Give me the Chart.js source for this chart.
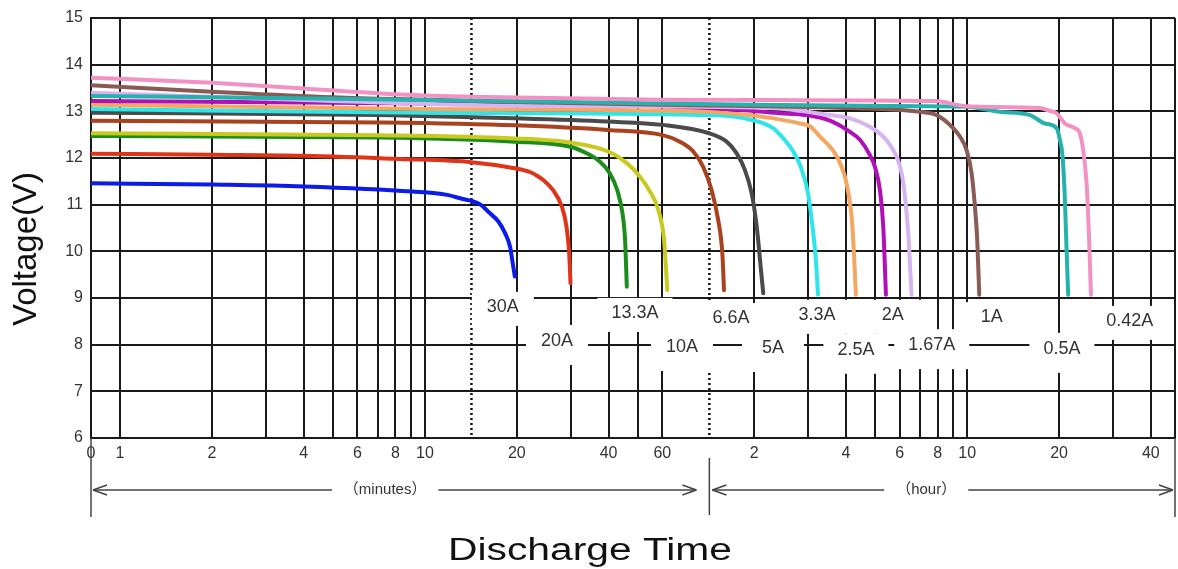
<!DOCTYPE html>
<html>
<head>
<meta charset="utf-8">
<title>Discharge curves</title>
<script src="https://cdn.jsdelivr.net/npm/chart.js@4.4.1/dist/chart.umd.min.js"></script>
<style>
  html, body { margin: 0; padding: 0; background: #fff; }
  canvas { display: block; }
</style>
</head>
<body>
<canvas id="descarga" width="1178" height="569"></canvas>
<script>
// discharge time in minutes, voltage in volts
const time30A = [0.803, 2, 4, 9.1, 11.8, 13.3, 14.2, 15.2, 16.3, 17.4, 18.3, 19.0, 19.4, 19.7];
const volt30A = [11.46, 11.43, 11.39, 11.28, 11.21, 11.12, 11.08, 11.0, 10.82, 10.64, 10.39, 10.1, 9.74, 9.46];

const time20A = [0.803, 2, 4, 8.3, 14.2, 19.7, 22.1, 23.3, 24.4, 26.3, 28.1, 29.1, 29.7, 30.0];
const volt20A = [12.09, 12.07, 12.05, 11.98, 11.91, 11.78, 11.70, 11.62, 11.53, 11.31, 10.96, 10.53, 9.96, 9.32];

const time13A = [0.803, 7.1, 19.7, 30, 33.9, 37.5, 40.4, 42.7, 44.4, 45.3, 45.9];
const volt13A = [12.47, 12.44, 12.35, 12.24, 12.10, 11.92, 11.67, 11.31, 10.82, 10.24, 9.24];

const time10A = [0.803, 7.1, 19.7, 30, 39.9, 45.9, 50.7, 54.7, 58.2, 60.8, 62.3];
const volt10A = [12.53, 12.49, 12.42, 12.33, 12.14, 11.89, 11.60, 11.28, 10.89, 10.24, 9.17];

const time6A = [0.803, 7.1, 19.7, 39.8, 60.1, 68.5, 75.8, 81.7, 87.1, 91.5, 94.4, 95.6];
const volt6A = [12.80, 12.76, 12.70, 12.60, 12.49, 12.35, 12.14, 11.81, 11.31, 10.67, 9.96, 9.17];

const time5A = [0.803, 7.1, 19.7, 39.8, 60.1, 85.5, 97.5, 105.2, 112, 117.8, 122.4, 126.1, 128.6];
const volt5A = [12.97, 12.92, 12.85, 12.78, 12.71, 12.53, 12.35, 12.10, 11.74, 11.24, 10.53, 9.67, 9.10];

const time3A = [0.803, 10, 86, 119, 138.4, 151.5, 160.9, 169.7, 180.2, 187.1, 191.4, 194.4];
const volt3A = [13.05, 12.97, 12.92, 12.81, 12.64, 12.38, 12.15, 11.85, 11.25, 10.45, 9.8, 9.07];

const time25A = [0.803, 10, 86, 125.4, 135.3, 169.7, 182.9, 197.3, 221, 229.5, 238.3, 245.6, 250.6, 255, 258.8];
const volt25A = [13.14, 13.05, 12.99, 12.89, 12.86, 12.74, 12.68, 12.46, 12.10, 11.89, 11.60, 11.17, 10.74, 9.96, 9.07];

const time2A = [0.803, 10, 86, 145.9, 177.5, 212.8, 247.5, 266.9, 287.7, 298.8, 310.3, 318.2, 324.7];
const volt2A = [13.22, 13.17, 13.07, 12.96, 12.92, 12.80, 12.56, 12.39, 12.06, 11.81, 11.31, 10.53, 9.07];

const time167A = [0.803, 5, 20, 135.3, 212.8, 247.5, 287.7, 318.2, 334.6, 352, 365.6, 374.9, 384.3, 394];
const volt167A = [13.40, 13.22, 13.12, 13.07, 12.92, 12.85, 12.67, 12.46, 12.28, 12.03, 11.67, 11.17, 10.39, 9.07];

const time1A = [0.803, 2, 5, 20, 60, 135.3, 247.5, 419.8, 476.1, 526.3, 567.7, 597, 620.2, 635.8, 647, 656.9];
const volt1A = [13.56, 13.42, 13.30, 13.2, 13.14, 13.11, 13.07, 12.99, 12.92, 12.71, 12.46, 12.17, 11.67, 10.96, 10.24, 9.07];

const time05A = [0.803, 5, 30, 120, 420, 597, 767.8, 962.9, 1078.5, 1178, 1207.8, 1232.5, 1254.2, 1270.2, 1285.7];
const volt05A = [13.33, 13.27, 13.20, 13.14, 13.11, 13.10, 12.99, 12.92, 12.74, 12.64, 12.39, 12.03, 11.1, 10.03, 9.07];

const time042A = [0.803, 2, 4, 8.3, 14.2, 60, 169.7, 472.5, 597, 1034, 1119.6, 1178, 1254, 1352, 1404, 1440, 1477, 1503, 1527];
const volt042A = [13.72, 13.61, 13.49, 13.36, 13.31, 13.25, 13.24, 13.22, 13.11, 13.07, 13.01, 12.96, 12.74, 12.64, 12.53, 12.17, 11.46, 10.39, 9.07];

const corrientes = ['30A', '20A', '13.3A', '10A', '6.6A', '5A', '3.3A', '2.5A', '2A', '1.67A', '1A', '0.5A', '0.42A'];
const tiempos = [time30A, time20A, time13A, time10A, time6A, time5A, time3A, time25A, time2A, time167A, time1A, time05A, time042A];
const voltajes = [volt30A, volt20A, volt13A, volt10A, volt6A, volt5A, volt3A, volt25A, volt2A, volt167A, volt1A, volt05A, volt042A];
const colores = ['#0b1be8', '#e0341a', '#1c8c1c', '#c9c922', '#a9431f', '#4a4a4a', '#2ee6ea',
                 '#f5a660', '#b010b8', '#d6b4f2', '#8a5a55', '#26b2ac', '#f292c4'];

// where each current label sits (minutes, volts)
const etiquetaTiempo = [18.0, 27.1, 48.8, 69.6, 100.8, 138.4, 192.8, 258.8, 342, 459, 722, 1226, 2046];
const etiquetaVolt = [8.81, 8.08, 8.68, 7.95, 8.57, 7.93, 8.64, 7.89, 8.64, 7.99, 8.59, 7.91, 8.51];

// axis: log time in minutes
const ejeMin = 0.803;
const ejeMax = 2880;
const gridMinutos = [1, 2, 3, 4, 5, 6, 7, 8, 9, 10, 20, 30, 40, 50, 60];
const gridHoras = [2, 3, 4, 5, 6, 7, 8, 9, 10, 20, 30, 40];
const etiquetasMinutos = [1, 2, 4, 6, 8, 10, 20, 40, 60];
const etiquetasHoras = [2, 4, 6, 8, 10, 20, 40];
const separadores = [14.2, 85.6];

const fuente = '"Liberation Sans", Arial, "Noto Sans CJK SC", sans-serif';

function linea(ctx, x1, y1, x2, y2) {
    ctx.beginPath();
    ctx.moveTo(x1, y1);
    ctx.lineTo(x2, y2);
    ctx.stroke();
}

function flecha(ctx, x1, x2, y, texto, xTexto) {
    ctx.font = '15px ' + fuente;
    const w = ctx.measureText(texto).width;
    const gap = w / 2 + 12;
    linea(ctx, x1, y, xTexto - gap, y);
    linea(ctx, xTexto + gap, y, x2, y);
    // heads
    linea(ctx, x1, y, x1 + 14, y - 5);
    linea(ctx, x1, y, x1 + 14, y + 5);
    linea(ctx, x2, y, x2 - 14, y - 5);
    linea(ctx, x2, y, x2 - 14, y + 5);
    ctx.textAlign = 'center';
    ctx.textBaseline = 'middle';
    ctx.fillText(texto, xTexto, y);
}

const extras = {
    id: 'extras',
    beforeDatasetsDraw(chart) {
        const { ctx, scales: { x, y } } = chart;
        ctx.save();
        ctx.strokeStyle = '#111';
        ctx.lineWidth = 2.5;
        ctx.setLineDash([2, 3]);
        separadores.forEach(function (v) {
            const px = x.getPixelForValue(v);
            linea(ctx, px, y.top, px, y.bottom);
        });
        ctx.setLineDash([]);
        // white boxes behind the current labels (upper row / lower row)
        ctx.font = '18px ' + fuente;
        ctx.fillStyle = '#fff';
        corrientes.forEach(function (t, i) {
            const px = x.getPixelForValue(etiquetaTiempo[i]);
            const py = y.getPixelForValue(etiquetaVolt[i]);
            const w = Math.max(ctx.measureText(t).width + 28, 62);
            if (i % 2 === 0) {
                ctx.fillRect(px - w / 2, py - 15, w, 34);
            } else {
                ctx.fillRect(px - w / 2, py - 16, w, 40);
            }
        });
        ctx.restore();
    },
    afterDatasetsDraw(chart) {
        const { ctx, scales: { x, y } } = chart;
        ctx.save();
        ctx.font = '18px ' + fuente;
        ctx.fillStyle = '#333';
        ctx.textAlign = 'center';
        ctx.textBaseline = 'middle';
        corrientes.forEach(function (t, i) {
            ctx.fillText(t, x.getPixelForValue(etiquetaTiempo[i]), y.getPixelForValue(etiquetaVolt[i]));
        });
        ctx.restore();
    },
    afterDraw(chart) {
        const { ctx, scales: { x, y } } = chart;
        const medio = x.getPixelForValue(separadores[1]);
        ctx.save();
        ctx.strokeStyle = '#444';
        ctx.fillStyle = '#333';
        ctx.lineWidth = 1.5;
        linea(ctx, x.left, y.bottom, x.left, 517);
        linea(ctx, medio, 458, medio, 515);
        linea(ctx, x.right, y.bottom, x.right, 517);
        flecha(ctx, x.left + 2, medio - 13, 490, '（minutes）', x.getPixelForValue(7.4));
        flecha(ctx, medio + 3, x.right - 2, 490, '（hour）', x.getPixelForValue(440));

        // axis titles
        ctx.fillStyle = '#111';
        ctx.font = '33px ' + fuente;
        ctx.save();
        ctx.translate(27, 249);
        ctx.rotate(-Math.PI / 2);
        ctx.textAlign = 'center';
        ctx.textBaseline = 'middle';
        ctx.fillText('Voltage(V)', 0, 0);
        ctx.restore();

        ctx.font = '31px ' + fuente;
        const titulo = 'Discharge Time';
        const escala = 284 / ctx.measureText(titulo).width;
        ctx.save();
        ctx.translate(590, 560);
        ctx.scale(escala, 1);
        ctx.textAlign = 'center';
        ctx.textBaseline = 'alphabetic';
        ctx.fillText(titulo, 0, 0);
        ctx.restore();
        ctx.restore();
    }
};

const ctx = document.getElementById('descarga').getContext('2d');
const myChart = new Chart(ctx, {
    type: 'line',
    data: {
        datasets: corrientes.map(function (c, i) {
            return {
                label: c,
                data: tiempos[i].map(function (t, j) { return { x: t, y: voltajes[i][j] }; }),
                borderColor: colores[i],
                backgroundColor: colores[i],
                borderWidth: 4,
                pointRadius: 0,
                fill: false,
                cubicInterpolationMode: 'monotone',
                borderCapStyle: 'round',
                borderJoinStyle: 'round',
                order: corrientes.length - i
            };
        })
    },
    options: {
        responsive: false,
        animation: false,
        layout: { padding: { top: 18, right: 3, left: 0, bottom: 0 } },
        plugins: {
            legend: { display: false },
            tooltip: { enabled: false }
        },
        scales: {
            x: {
                type: 'logarithmic',
                min: ejeMin,
                max: ejeMax,
                afterFit: function (scale) { scale.height = 131; },
                afterBuildTicks: function (scale) {
                    const valores = [ejeMin]
                        .concat(gridMinutos)
                        .concat(gridHoras.map(function (h) { return h * 60; }))
                        .concat([ejeMax]);
                    scale.ticks = valores.map(function (v) { return { value: v }; });
                },
                grid: { color: '#1a1a1a', lineWidth: 2, drawTicks: false },
                border: { color: '#1a1a1a', width: 2 },
                ticks: {
                    autoSkip: false,
                    maxRotation: 0,
                    padding: 0,
                    color: '#333',
                    font: { family: fuente, size: 16, lineHeight: 2 },
                    callback: function (v) {
                        if (v === ejeMin) return '0';
                        if (v <= 60) return etiquetasMinutos.includes(v) ? String(v) : '';
                        if (v === ejeMax) return '';
                        return etiquetasHoras.includes(v / 60) ? String(v / 60) : '';
                    }
                }
            },
            y: {
                type: 'linear',
                min: 6,
                max: 15,
                afterFit: function (scale) { scale.width = 91; },
                grid: { color: '#1a1a1a', lineWidth: 2, drawTicks: false },
                border: { color: '#1a1a1a', width: 2 },
                ticks: {
                    stepSize: 1,
                    padding: 8,
                    color: '#333',
                    font: { family: fuente, size: 16 }
                }
            }
        }
    },
    plugins: [extras]
});
</script>
</body>
</html>
